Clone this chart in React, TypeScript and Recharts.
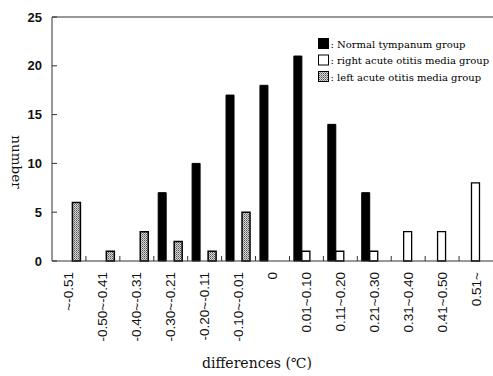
import React from "react";
import { BarChart, Bar, XAxis, YAxis, ReferenceLine, Label } from "recharts";

const categories = [
  "~-0.51", "-0.50~-0.41", "-0.40~-0.31", "-0.30~-0.21", "-0.20~-0.11", "-0.10~-0.01", "0",
  "0.01~0.10", "0.11~0.20", "0.21~0.30", "0.31~0.40", "0.41~0.50", "0.51~",
];
const normalGroup = [0, 0, 0, 7, 10, 17, 18, 21, 14, 7, 0, 0, 0];
const rightGroup = [0, 0, 0, 0, 0, 0, 0, 1, 1, 1, 3, 3, 8];
const leftGroup = [6, 1, 3, 2, 1, 5, 0, 0, 0, 0, 0, 0, 0];
const yTicks = [0, 5, 10, 15, 20, 25];
const seriesNames = [
  ": Normal tympanum group",
  ": right acute otitis media group",
  ": left acute otitis media group",
];

const data = categories.map((c, i) => ({
  cat: c,
  normal: normalGroup[i],
  right: rightGroup[i],
  left: leftGroup[i],
}));

const W = 493;
const H = 376;
const M = { top: 17, right: 0, left: 0, bottom: 0 };
const Y_W = 52;
const X_H = 115;
const band = (W - M.left - M.right - Y_W) / categories.length;
const serif = "'DejaVu Serif', 'Liberation Serif', serif";
const sans = "'Liberation Sans', Arial, sans-serif";

const YTick = (props: any) => {
  const { x, y, payload } = props;
  return (
    <g>
      <line x1={x + 10} x2={x + 15} y1={y} y2={y} stroke="#333" strokeWidth={1} />
      <text x={x} y={y} textAnchor="end" dominantBaseline="central" fontFamily={sans} fontSize={13} fontWeight={700} fill="#111">
        {payload.value}
      </text>
    </g>
  );
};

const XTick = (props: any) => {
  const { x, y, payload, index } = props;
  const bx = x + band / 2;
  const ay = y - 11;
  return (
    <g>
      {index < categories.length - 1 && (
        <line x1={bx} x2={bx} y1={ay} y2={ay - 5} stroke="#333" strokeWidth={1} />
      )}
      <text
        x={x}
        y={y}
        transform={`rotate(-90, ${x}, ${y})`}
        textAnchor="end"
        dominantBaseline="central"
        fontFamily={sans}
        fontSize={13.5}
        fill="#111"
      >
        {payload.value}
      </text>
    </g>
  );
};

const LegendBox = () => {
  const fills = ["#000", "#fff", "url(#dots)"];
  return (
    <svg width={180} height={56} style={{ position: "absolute", left: 317, top: 37, overflow: "visible" }}>
      {seriesNames.map((n, i) => (
        <g key={n}>
          <rect x={1.5} y={i * 16.5 + 1.5} width={10} height={10} fill={fills[i]} stroke="#000" strokeWidth={1} />
          <text x={13.5} y={i * 16.5 + 7} dominantBaseline="central" fontFamily={serif} fontSize={10} fill="#000">
            {n}
          </text>
        </g>
      ))}
    </svg>
  );
};

export default function App() {
  return (
    <div style={{ position: "absolute", left: 0, top: 0, width: W, height: H, background: "#fff" }}>
      <BarChart width={W} height={H} data={data} margin={M} barCategoryGap="13%" barGap={0}>
        <defs>
          <pattern id="dots" width="2" height="2" patternUnits="userSpaceOnUse">
            <rect width="2" height="2" fill="#d8d8d8" />
            <rect width="1" height="1" fill="#555" />
            <rect x="1" y="1" width="1" height="1" fill="#888" />
          </pattern>
        </defs>
        <XAxis
          dataKey="cat"
          interval={0}
          height={X_H}
          tickSize={0}
          tickMargin={11}
          tick={<XTick />}
          axisLine={{ stroke: "#333", strokeWidth: 1 }}
        >
          <Label
            content={() => (
              <text x={257} y={368} textAnchor="middle" fontFamily={serif} fontSize={14} fill="#111">
                differences (℃)
              </text>
            )}
          />
        </XAxis>
        <YAxis
          width={Y_W}
          domain={[0, 25]}
          ticks={yTicks}
          tickSize={0}
          tickMargin={10}
          tick={<YTick />}
          axisLine={{ stroke: "#333", strokeWidth: 1 }}
        >
          <Label
            content={() => (
              <text x={17} y={162} transform="rotate(90, 17, 162)" textAnchor="middle" dominantBaseline="central" fontFamily={serif} fontSize={13.5} fill="#111">
                number
              </text>
            )}
          />
        </YAxis>
        <ReferenceLine y={25} stroke="#333" strokeWidth={1} />
        <Bar dataKey="normal" fill="#000" stroke="#000" strokeWidth={1} isAnimationActive={false} />
        <Bar dataKey="right" fill="#fff" stroke="#000" strokeWidth={1.3} isAnimationActive={false} />
        <Bar dataKey="left" fill="url(#dots)" stroke="#000" strokeWidth={1.5} isAnimationActive={false} />
      </BarChart>
      <LegendBox />
    </div>
  );
}
